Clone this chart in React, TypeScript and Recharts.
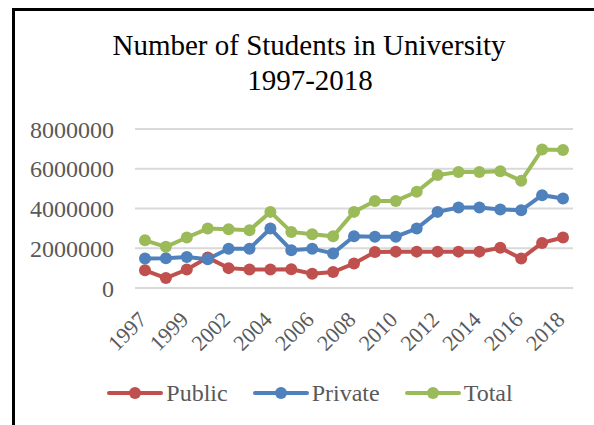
import { LineChart, Line, XAxis, YAxis, CartesianGrid, Legend } from 'recharts';

const years = ['1997', '1998', '1999', '2000', '2002', '2003', '2004', '2005', '2006', '2007', '2008', '2009', '2010', '2011', '2012', '2013', '2014', '2015', '2016', '2017', '2018'];
const publicStudents = [890000, 500000, 930000, 1530000, 1000000, 930000, 930000, 940000, 720000, 800000, 1230000, 1810000, 1830000, 1830000, 1830000, 1830000, 1830000, 2020000, 1480000, 2270000, 2540000];
const privateStudents = [1480000, 1500000, 1560000, 1450000, 1980000, 1980000, 2990000, 1900000, 1980000, 1740000, 2600000, 2580000, 2580000, 2990000, 3830000, 4050000, 4050000, 3950000, 3910000, 4670000, 4500000];
const totalStudents = [2400000, 2070000, 2540000, 2990000, 2960000, 2910000, 3830000, 2820000, 2710000, 2600000, 3830000, 4380000, 4380000, 4840000, 5680000, 5840000, 5840000, 5880000, 5390000, 6970000, 6940000];
const yTicks = [0, 2000000, 4000000, 6000000, 8000000];

const series = [
	{ key: 'public', name: 'Public', color: '#C0504D' },
	{ key: 'private', name: 'Private', color: '#4F81BD' },
	{ key: 'total', name: 'Total', color: '#9BBB59' },
];

const data = years.map((year, i) => ({
	year,
	public: publicStudents[i],
	private: privateStudents[i],
	total: totalStudents[i],
}));

const font = '"Liberation Serif", "Times New Roman", serif';
const grey = '#595959';

function YearTick(props: any) {
	const { x, y, payload } = props;
	return (
		<g transform={`translate(${x + 3},${y + 33})`}>
			<text textAnchor="end" transform="rotate(-45)" fontFamily={font} fontSize={22} fill={grey}>
				{payload.value}
			</text>
		</g>
	);
}

function LegendContent() {
	return (
		<div style={{ display: 'flex', justifyContent: 'center', alignItems: 'center', gap: 25, height: 30, fontFamily: font, fontSize: 24, color: grey }}>
			{series.map((s) => (
				<div key={s.key} style={{ display: 'flex', alignItems: 'center' }}>
					<svg width={56} height={14}>
						<line x1={2} y1={7} x2={54} y2={7} stroke={s.color} strokeWidth={4} strokeLinecap="round" />
						<circle cx={28} cy={7} r={6} fill={s.color} />
					</svg>
					<span style={{ marginLeft: 3 }}>{s.name}</span>
				</div>
			))}
		</div>
	);
}

export default function App() {
	return (
		<div style={{ position: 'absolute', left: 0, top: 0, width: 594, height: 425, background: '#fff', overflow: 'hidden' }}>
			<div style={{ position: 'absolute', left: 12, top: 8, width: 620, height: 460, border: '3px solid #000', boxSizing: 'border-box' }} />
			<svg width={594} height={110} style={{ position: 'absolute', left: 0, top: 0 }}>
				<text x={309} y={55} textAnchor="middle" fontFamily={font} fontSize={29} fill="#000">
					Number of Students in University
				</text>
				<text x={310} y={90} textAnchor="middle" fontFamily={font} fontSize={29} fill="#000">
					1997-2018
				</text>
			</svg>
			<div style={{ position: 'absolute', left: 0, top: 0 }}>
				<LineChart width={594} height={425} data={data} margin={{ top: 129, right: 21, bottom: 17, left: 0 }}>
					<CartesianGrid vertical={false} stroke="#d9d9d9" strokeWidth={2} />
					<XAxis
						dataKey="year"
						interval={1}
						axisLine={false}
						tickLine={false}
						tickSize={0}
						tickMargin={0}
						padding={{ left: 10, right: 10 }}
						height={90}
						tick={<YearTick />}
					/>
					<YAxis
						domain={[0, 8000000]}
						ticks={yTicks}
						width={135}
						axisLine={false}
						tickLine={false}
						tickSize={0}
						tickMargin={21}
						tick={{ fontFamily: font, fontSize: 24, fill: grey }}
					/>
					<Legend verticalAlign="bottom" content={<LegendContent />} wrapperStyle={{ left: 0, width: 620 }} />
					{series.map((s) => (
						<Line
							key={s.key}
							type="linear"
							dataKey={s.key}
							name={s.name}
							stroke={s.color}
							strokeWidth={4}
							dot={{ r: 6, fill: s.color, stroke: s.color, strokeWidth: 0 }}
							isAnimationActive={false}
						/>
					))}
				</LineChart>
			</div>
		</div>
	);
}
